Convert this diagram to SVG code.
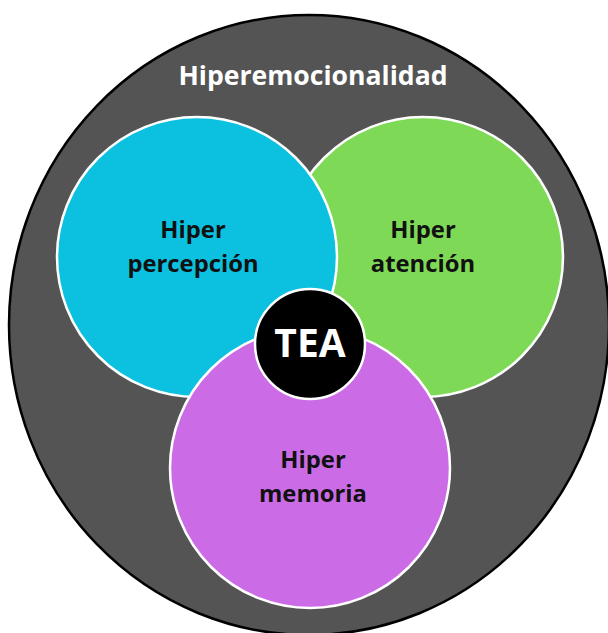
<svg xmlns="http://www.w3.org/2000/svg" width="608" height="633" viewBox="0 0 608 633">
  <style>
    .lbl { font-family: "Open Sans", "Noto Sans", "DejaVu Sans", sans-serif; font-weight: bold; text-anchor: middle; }
    .dark { fill: #111111; font-size: 23.8px; }
    .white { fill: #ffffff; }
    .inner { stroke: #ffffff; stroke-width: 2.5; }
  </style>
  <rect width="608" height="633" fill="#ffffff"/>
  <g id="hiperemocionalidad">
    <ellipse cx="309" cy="325" rx="300" ry="310" fill="#545454" stroke="#000000" stroke-width="2.5"/>
    <text class="lbl white" x="313" y="85" font-size="26.6">Hiperemocionalidad</text>
  </g>
  <g id="hiper-atencion">
    <circle class="inner" cx="423" cy="257" r="140" fill="#7ED957"/>
    <text class="lbl dark" x="423" y="238">Hiper</text>
    <text class="lbl dark" x="423" y="272">atención</text>
  </g>
  <g id="hiper-percepcion">
    <circle class="inner" cx="197" cy="257" r="140" fill="#0CC0DF"/>
    <text class="lbl dark" x="193" y="238">Hiper</text>
    <text class="lbl dark" x="193" y="272">percepción</text>
  </g>
  <g id="hiper-memoria">
    <circle class="inner" cx="310" cy="468" r="140" fill="#CB6CE6"/>
    <text class="lbl dark" x="313" y="468">Hiper</text>
    <text class="lbl dark" x="313" y="502">memoria</text>
  </g>
  <g id="tea">
    <circle class="inner" cx="310" cy="344" r="55" fill="#000000"/>
    <text class="lbl white" x="310" y="357" font-size="39">TEA</text>
  </g>
  <g id="connectors"></g>
</svg>
